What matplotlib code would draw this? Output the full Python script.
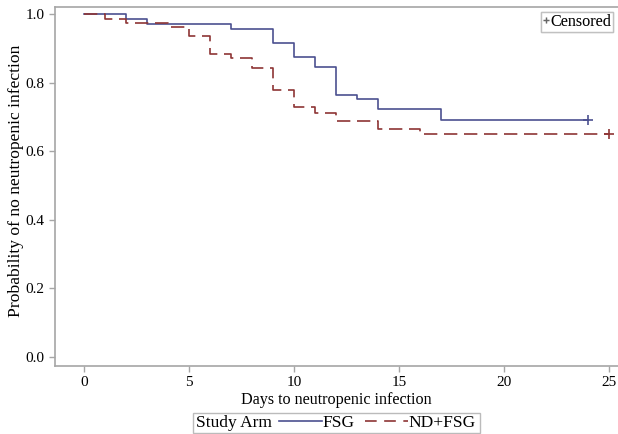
import numpy as np
import matplotlib.pyplot as plt
from matplotlib.lines import Line2D
from matplotlib.patches import Rectangle

plt.rcParams['font.family'] = ['Liberation Serif', 'DejaVu Serif']

# Kaplan-Meier estimates
fsg_t = [0, 2, 3, 7, 9, 10, 11, 12, 13, 14, 17, 24]
fsg_s = [1.0, 0.987, 0.973, 0.958, 0.918, 0.875, 0.848, 0.764, 0.753, 0.724, 0.693, 0.693]
fsg_cens_t = [24]
fsg_cens_s = [0.693]

nd_t = [0, 1, 2, 4, 5, 6, 7, 8, 9, 10, 11, 12, 14, 16, 25]
nd_s = [1.0, 0.988, 0.974, 0.962, 0.936, 0.885, 0.873, 0.845, 0.780, 0.729, 0.713, 0.688, 0.666, 0.650, 0.650]
nd_cens_t = [25]
nd_cens_s = [0.650]

x_ticks = [0, 5, 10, 15, 20, 25]
y_ticks = [0.0, 0.2, 0.4, 0.6, 0.8, 1.0]

blue = '#4b5090'
red = '#8e3535'
frame = '#a6a6a6'
W, H = 618, 434

fig = plt.figure(figsize=(W / 100, H / 100), dpi=100)
ax = fig.add_axes([0.089, 0.157, 0.911, 0.827])

ax.step(fsg_t, fsg_s, where='post', color=blue, lw=1.2)
ax.step(nd_t, nd_s, where='post', color=red, lw=1.2, ls=(0, (8, 4)))
ax.plot(fsg_cens_t, fsg_cens_s, '+', color=blue, ms=7, mew=1.2)
ax.plot(nd_cens_t, nd_cens_s, '+', color=red, ms=7, mew=1.2)

ax.set_xlim(-1.38, 25.43)
ax.set_ylim(-0.026, 1.022)
ax.set_xticks(x_ticks)
ax.set_yticks(y_ticks)
ax.set_yticklabels(['%.1f' % v for v in y_ticks])
ax.tick_params(labelsize=11, color=frame, length=4, width=1)
for s in ['left', 'bottom', 'top']:
    ax.spines[s].set_color(frame)
    ax.spines[s].set_linewidth(1.2)
ax.spines['right'].set_visible(False)

ax.set_xlabel('Days to neutropenic infection', fontsize=11.6, labelpad=2)
ax.set_ylabel('Probability of no neutropenic infection', fontsize=12.6)
ax.yaxis.set_label_coords(-0.055, 0.515)

cens = ax.legend([Line2D([], [], marker='+', color='#666666', ls='none', ms=4)], ['Censored'],
                 loc='upper right', bbox_to_anchor=(0.996, 0.994), fontsize=11.6,
                 frameon=True, fancybox=False, edgecolor='#bbbbbb', handlelength=0.4,
                 handletextpad=0.05, borderpad=0.1, borderaxespad=0.2)
ax.add_artist(cens)

# bottom legend: box, "Study Arm" caption, then the two line entries
fig.patches.append(Rectangle((193 / W, 1 / H), 287 / W, 20 / H, transform=fig.transFigure,
                             fill=False, edgecolor='#bbbbbb', lw=1))
fig.text(196 / W, 11 / H, 'Study Arm', ha='left', va='center', fontsize=12.5)
handles = [Line2D([], [], color=blue, lw=1.2),
           Line2D([], [], color=red, lw=1.2, ls=(0, (7, 4.5)))]
fig.legend(handles, ['FSG', 'ND+FSG'], loc='center left',
           bbox_to_anchor=(279 / W, 11 / H), ncol=2, fontsize=12.5, frameon=False,
           handlelength=2.5, handletextpad=0.0, columnspacing=0.6,
           borderpad=0, borderaxespad=0)

fig.savefig('out.png', dpi=100)
